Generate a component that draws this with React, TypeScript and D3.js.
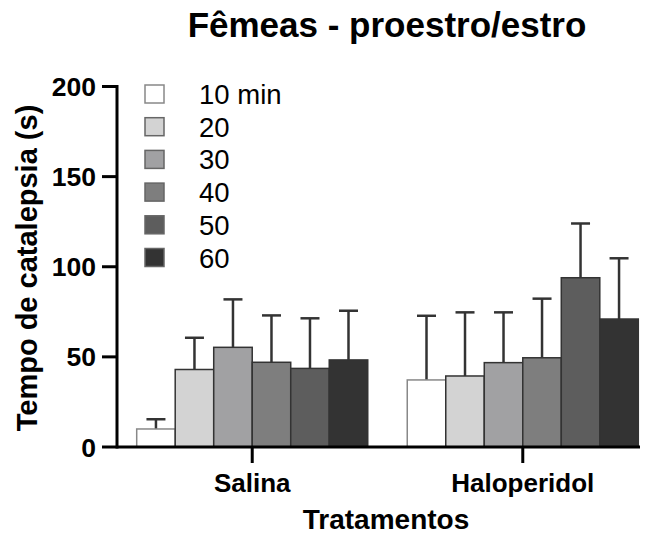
import React from "react";
import * as d3 from "d3";

const groups = ["Salina", "Haloperidol"];
const times = ["10 min", "20", "30", "40", "50", "60"];
const colors = ["#ffffff", "#d3d3d3", "#a1a1a3", "#7e7e7e", "#5d5d5d", "#333333"];
const means = [
  [10, 43, 55.3, 47, 43.6, 48.3],
  [37.2, 39.4, 46.8, 49.5, 93.9, 71],
];
const upper = [
  [15.4, 60.6, 81.9, 73, 71.4, 75.6],
  [72.8, 74.7, 74.7, 82.3, 124, 104.7],
];
const yTicks = [0, 50, 100, 150, 200];

const W = 649;
const H = 535;
const axisX = 117;
const axisY = 447;

const App = () => {
  const y = d3.scaleLinear().domain([0, 200]).range([axisY, 86.5]);
  const x0 = d3.scaleBand<string>().domain(groups).range([136.7, 638.3]).paddingInner(0.146).paddingOuter(0);
  const x1 = d3.scaleBand<string>().domain(times).range([0, x0.bandwidth()]);
  const font = "'Liberation Sans', Arial, sans-serif";

  return (
    <svg width={W} height={H} style={{ position: "absolute", left: 0, top: 0 }} fontFamily={font}>
      <rect width={W} height={H} fill="#fff" />
      <text x={387} y={37} textAnchor="middle" fontSize={35} fontWeight="bold">
        Fêmeas - proestro/estro
      </text>

      {/* bars */}
      {groups.map((g, gi) => (
        <g key={g} transform={`translate(${x0(g)},0)`}>
          {times.map((t, ti) => {
            const bx = x1(t)!;
            const cx = bx + x1.bandwidth() / 2;
            return (
              <g key={t}>
                <line x1={cx} x2={cx} y1={y(means[gi][ti])} y2={y(upper[gi][ti])} stroke="#333" strokeWidth={2.5} />
                <line x1={cx - 9.5} x2={cx + 9.5} y1={y(upper[gi][ti])} y2={y(upper[gi][ti])} stroke="#333" strokeWidth={2.5} />
                <rect
                  x={bx}
                  y={y(means[gi][ti])}
                  width={x1.bandwidth()}
                  height={axisY - y(means[gi][ti])}
                  fill={colors[ti]}
                  stroke={ti === 0 ? "#888" : "#333"}
                  strokeWidth={1.5}
                />
              </g>
            );
          })}
        </g>
      ))}

      {/* y axis */}
      <line x1={axisX} x2={axisX} y1={y(200) - 1.5} y2={axisY + 1.5} stroke="#000" strokeWidth={3} />
      {yTicks.map((v) => (
        <g key={v}>
          <line x1={axisX - 15} x2={axisX} y1={y(v)} y2={y(v)} stroke="#000" strokeWidth={3} />
          <text x={96} y={y(v) + 9.5} textAnchor="end" fontSize={26.5} fontWeight="bold">
            {v}
          </text>
        </g>
      ))}

      {/* x axis */}
      <line x1={axisX} x2={640} y1={axisY} y2={axisY} stroke="#000" strokeWidth={3} />
      {groups.map((g) => {
        const cx = x0(g)! + x0.bandwidth() / 2;
        return (
          <g key={g}>
            <line x1={cx} x2={cx} y1={axisY} y2={axisY + 16} stroke="#000" strokeWidth={3} />
            <text x={cx} y={492} textAnchor="middle" fontSize={26} fontWeight="bold">
              {g}
            </text>
          </g>
        );
      })}
      <text x={386} y={529} textAnchor="middle" fontSize={28} fontWeight="bold">
        Tratamentos
      </text>
      <text transform={`translate(36.5,268) rotate(-90)`} textAnchor="middle" fontSize={29} fontWeight="bold">
        Tempo de catalepsia (s)
      </text>

      {/* legend */}
      {times.map((t, i) => (
        <g key={t} transform={`translate(145,${85 + i * 32.7})`}>
          <rect width={19} height={18} fill={colors[i]} stroke={i === 0 ? "#888" : "#666"} strokeWidth={1.5} />
          <text x={54} y={19} fontSize={27.5}>
            {t}
          </text>
        </g>
      ))}
    </svg>
  );
};

export default App;
